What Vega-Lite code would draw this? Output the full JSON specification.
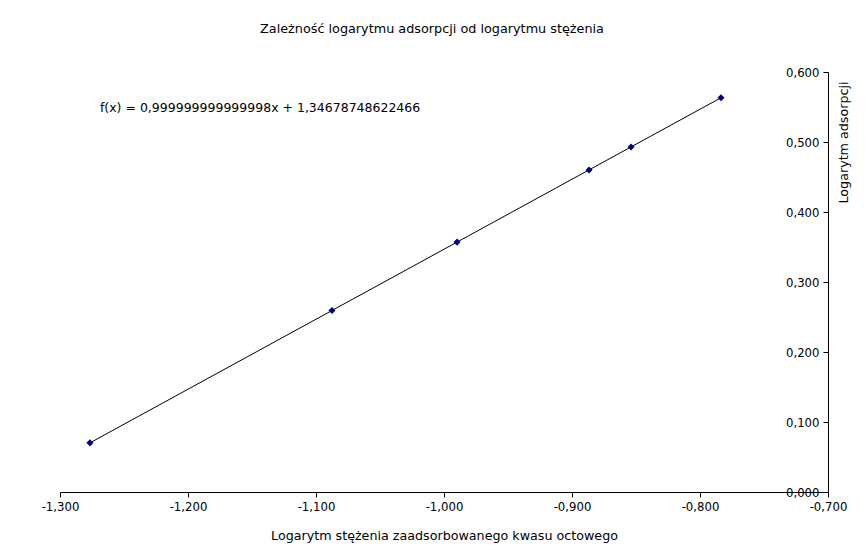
{
  "$schema": "https://vega.github.io/schema/vega-lite/v6.json",
  "width": 768,
  "height": 420,
  "autosize": {"type": "none"},
  "padding": {"left": 60, "top": 72, "right": 38, "bottom": 56},
  "background": "white",
  "config": {
    "font": "DejaVu Sans",
    "view": {"stroke": null},
    "locale": {"number": {"decimal": ",", "thousands": " ", "grouping": [3], "currency": ["", " zł"], "minus": "-"}},
    "axis": {"grid": false, "domainColor": "#000000", "tickColor": "#000000", "labelColor": "#000000", "titleColor": "#000000", "labelFont": "DejaVu Sans", "titleFont": "DejaVu Sans", "labelFontSize": 11.7, "titleFontSize": 12.7, "titleFontWeight": "normal", "tickSize": 5, "domainWidth": 1, "tickWidth": 1}
  },
  "title": {"text": "Zależność logarytmu adsorpcji od logarytmu stężenia", "font": "DejaVu Sans", "fontSize": 12.8, "fontWeight": "normal", "color": "#000000", "anchor": "middle", "dx": -12, "offset": 31},
  "datasets": {
    "pts": [
      {"x": -1.2766, "y": 0.0702},
      {"x": -1.0875, "y": 0.2593},
      {"x": -0.9898, "y": 0.357},
      {"x": -0.8867, "y": 0.4601},
      {"x": -0.8539, "y": 0.4929},
      {"x": -0.7836, "y": 0.5632}
    ],
    "eq": [{"x": -1.2688, "y": 0.5486, "label": "f(x) =  0,999999999999998x + 1,34678748622466"}]
  },
  "layer": [
    {
      "data": {"name": "pts"},
      "mark": {"type": "line", "color": "#000000", "strokeWidth": 1},
      "encoding": {
        "x": {"field": "x", "type": "quantitative", "scale": {"domain": [-1.3, -0.7], "nice": false, "zero": false},
          "axis": {"title": "Logarytm stężenia zaadsorbowanego kwasu octowego", "values": [-1.3, -1.2, -1.1, -1.0, -0.9, -0.8, -0.7], "format": ".3f", "labelPadding": 4, "titlePadding": 17, "labelFlush": false, "labelOverlap": false}},
        "y": {"field": "y", "type": "quantitative", "scale": {"domain": [0, 0.6], "nice": false},
          "axis": {"orient": "left", "offset": -768, "title": "Logarytm adsorpcji", "values": [0, 0.1, 0.2, 0.3, 0.4, 0.5, 0.6], "format": ".3f", "labelPadding": 4, "titleX": 15, "titleY": 70, "titleAngle": -90, "titleAlign": "center", "titleBaseline": "middle", "labelFlush": false, "labelOverlap": false}}
      }
    },
    {
      "data": {"name": "pts"},
      "mark": {"type": "point", "shape": "diamond", "filled": true, "color": "#000080", "size": 50, "opacity": 1},
      "encoding": {
        "x": {"field": "x", "type": "quantitative"},
        "y": {"field": "y", "type": "quantitative"}
      }
    },
    {
      "data": {"name": "eq"},
      "mark": {"type": "text", "align": "left", "baseline": "middle", "font": "DejaVu Sans", "fontSize": 12.5, "color": "#000000"},
      "encoding": {
        "x": {"field": "x", "type": "quantitative"},
        "y": {"field": "y", "type": "quantitative"},
        "text": {"field": "label"}
      }
    }
  ]
}
